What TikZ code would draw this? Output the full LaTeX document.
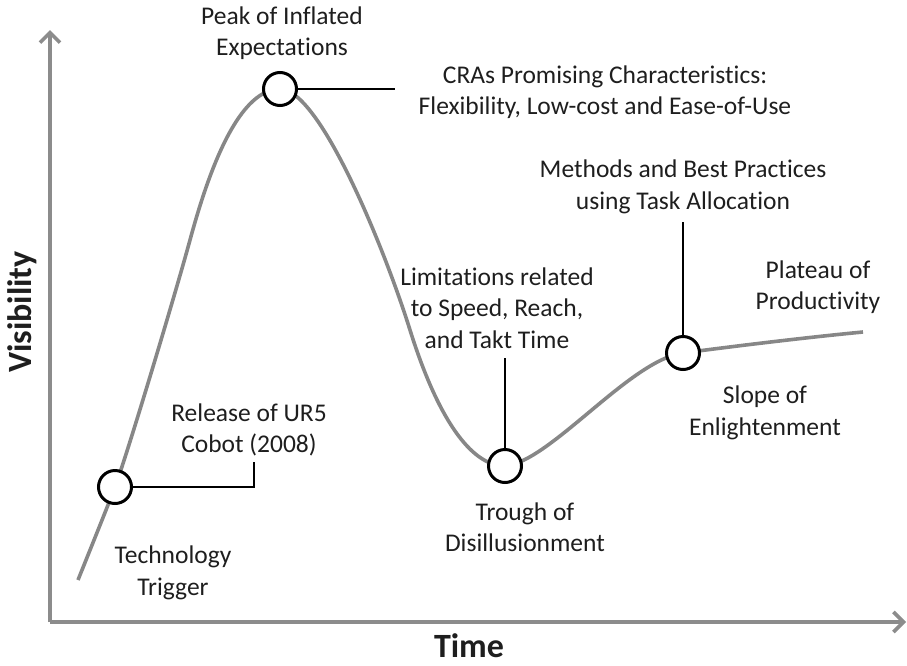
\documentclass[tikz,border=0pt]{standalone}
\usepackage{fontspec}
\setmainfont{Carlito}[Ligatures=CommonOff]
\usetikzlibrary{arrows.meta}
\definecolor{axisgray}{RGB}{140,140,140}
\definecolor{curvegray}{RGB}{135,135,135}
\definecolor{txt}{RGB}{30,30,30}
\begin{document}
\begin{tikzpicture}[x=1pt,y=-1pt,
  lbl/.style={align=center,text=txt,font=\fontsize{25.5}{31.5}\selectfont,inner sep=0pt},
  axislbl/.style={text=txt,font=\fontsize{34}{38}\selectfont\bfseries,inner sep=0pt},
  phase/.style={circle,draw=black,line width=3pt,fill=white,minimum size=33pt,inner sep=0pt},
  leader/.style={draw=black,line width=2.6pt},
  axisline/.style={draw=axisgray,line width=3.6pt,-{Straight Barb[length=10pt,width=20pt,line width=3.6pt]}},
  curve/.style={draw=curvegray,line width=3.6pt}]
\useasboundingbox (0,0) rectangle (907,665);
% axes
\coordinate (o) at (50,622);
\coordinate (ytip) at (50,30);
\coordinate (xtip) at (906,622);
\draw[axisline] (o) -- (ytip);
\draw[axisline] (o) -- (xtip);
\node[axislbl,rotate=90] (vis) at (22,312) {Visibility};
\node[axislbl] (time) at (469,646) {Time};
% curve
\draw[curve] (78,580) .. controls (90,550) and (105,513) .. (115,487)
  .. controls (127,455) and (175,295) .. (190,240)
  .. controls (205,185) and (235,89) .. (280,89)
  .. controls (320,89) and (385,250) .. (410,330)
  .. controls (437,416) and (470,466) .. (505,466)
  .. controls (550,462) and (630,360) .. (683,353)
  .. controls (720,348) and (800,338) .. (863,332);
% circles
\node[phase] (c1) at (115,487) {};
\node[phase] (c2) at (280,89) {};
\node[phase] (c3) at (505,466) {};
\node[phase] (c4) at (683,353) {};
% leader ends
\coordinate (l1a) at (254,487);
\coordinate (l1b) at (254,462);
\coordinate (l2) at (395,89);
\coordinate (l3) at (505,358);
\coordinate (l4) at (683,222);
\draw[leader] (c1.east) -- (l1a) -- (l1b);
\draw[leader] (c2.east) -- (l2);
\draw[leader] (c3.north) -- (l3);
\draw[leader] (c4.north) -- (l4);
% labels
\node[lbl] (peak) at (282,33) {Peak of Inflated\\Expectations};
\node[lbl] (cra) at (605,92) {CRAs Promising Characteristics:\\Flexibility, Low-cost and Ease-of-Use};
\node[lbl] (meth) at (683,187) {Methods and Best Practices\\using Task Allocation};
\node[lbl] (lim) at (497,308) {Limitations related\\to Speed, Reach,\\and Takt Time};
\node[lbl] (plat) at (818,287) {Plateau of\\Productivity};
\node[lbl] (slope) at (765,413) {Slope of\\Enlightenment};
\node[lbl] (trough) at (525,527) {Trough of\\Disillusionment};
\node[lbl] (rel) at (249,430) {Release of UR5\\Cobot (2008)};
\node[lbl] (tech) at (173,573) {Technology\\Trigger};
\end{tikzpicture}
\end{document}
